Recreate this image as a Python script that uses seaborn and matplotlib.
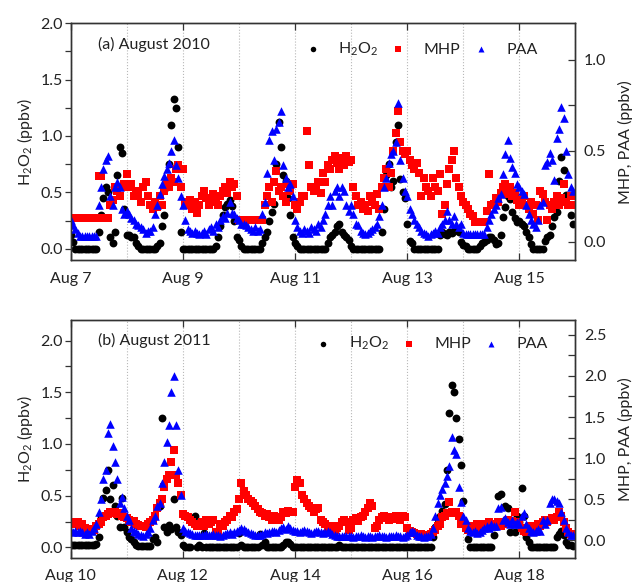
import numpy as np
import pandas as pd
import matplotlib
matplotlib.use("Agg")
import matplotlib.pyplot as plt
import matplotlib.dates as mdates
from matplotlib.ticker import MultipleLocator, FormatStrFormatter
import seaborn as sns

sns.set_style("ticks")
plt.rcParams['font.family'] = ['Lato', 'DejaVu Sans']
plt.rcParams['mathtext.fontset'] = 'custom'
plt.rcParams['mathtext.rm'] = 'Lato'
plt.rcParams['mathtext.it'] = 'Lato:italic'
plt.rcParams['font.size'] = 11.5

# ---------------- (a) August 2010, hourly, Aug 7 00:00 -> Aug 15 23:00 ----------------
a_start = "2010-08-07"
a_h2o2 = [
    0.12,0.06,0.0,0.0,0.0,0.0,0.0,0.0,0.0,0.0,0.0,0.0,0.15,0.3,0.45,0.55,0.5,0.1,0.05,0.15,0.65,0.9,0.85,0.35,
    0.12,0.12,0.1,0.1,0.05,0.02,0.0,0.0,0.0,0.0,0.0,0.0,0.0,0.02,0.05,0.2,0.3,0.55,0.75,1.1,1.33,1.25,0.9,0.15,
    0.0,0.0,0.0,0.0,0.0,0.0,0.0,0.0,0.0,0.0,0.0,0.0,0.0,0.0,0.02,0.1,0.2,0.3,0.37,0.4,0.43,0.38,0.25,0.1,
    0.08,0.02,0.0,0.0,0.0,0.0,0.0,0.0,0.0,0.0,0.05,0.1,0.15,0.25,0.33,0.4,0.75,1.12,0.9,0.65,0.6,0.45,0.3,0.1,
    0.05,0.02,0.0,0.0,0.0,0.0,0.0,0.0,0.0,0.0,0.0,0.0,0.0,0.0,0.05,0.1,0.12,0.15,0.2,0.22,0.15,0.12,0.1,0.08,
    0.02,0.0,0.0,0.0,0.0,0.0,0.0,0.0,0.0,0.0,0.0,0.0,0.0,0.15,0.35,0.65,0.75,0.55,0.6,0.95,1.1,0.62,0.5,0.45,
    0.22,0.07,0.05,0.0,0.0,0.0,0.0,0.0,0.0,0.0,0.0,0.0,0.0,0.0,0.12,0.15,0.13,0.12,0.15,0.14,0.16,0.18,0.15,0.06,
    0.03,0.02,0.0,0.0,0.0,0.0,0.0,0.02,0.05,0.06,0.08,0.1,0.1,0.08,0.04,0.05,0.12,0.28,0.37,0.47,0.44,0.33,0.27,0.24,
    0.25,0.22,0.2,0.15,0.1,0.04,0.0,0.0,0.0,0.0,0.0,0.07,0.1,0.12,0.2,0.28,0.33,0.6,0.81,0.7,0.48,0.4,0.3,0.22,
]
a_mhp = [
    0.13,0.13,0.13,0.13,0.13,0.13,0.13,0.13,0.13,0.13,0.13,0.13,0.36,0.36,0.13,0.13,0.13,0.2,0.23,0.3,0.28,0.25,0.3,0.32,
    0.37,0.3,0.32,0.25,0.28,0.26,0.22,0.3,0.33,0.25,0.2,0.18,0.22,0.19,0.25,0.2,0.28,0.32,0.3,0.35,0.33,0.4,0.42,0.3,
    0.4,0.22,0.2,0.23,0.18,0.22,0.16,0.2,0.25,0.28,0.24,0.2,0.22,0.26,0.24,0.2,0.25,0.28,0.3,0.27,0.33,0.3,0.32,0.25,
    0.12,0.12,0.12,0.12,0.12,0.12,0.12,0.12,0.12,0.12,0.12,0.2,0.25,0.3,0.22,0.33,0.39,0.28,0.3,0.25,0.22,0.32,0.28,0.32,
    0.2,0.18,0.22,0.25,0.25,0.61,0.42,0.3,0.28,0.3,0.33,0.27,0.38,0.33,0.42,0.4,0.45,0.47,0.43,0.4,0.46,0.42,0.47,0.44,
    0.45,0.3,0.25,0.2,0.22,0.18,0.2,0.17,0.25,0.22,0.2,0.26,0.18,0.3,0.35,0.4,0.3,0.38,0.5,0.6,0.72,0.55,0.5,0.48,
    0.5,0.45,0.42,0.4,0.43,0.38,0.25,0.35,0.3,0.28,0.25,0.35,0.3,0.28,0.37,0.15,0.2,0.32,0.4,0.45,0.5,0.35,0.3,0.25,
    0.22,0.2,0.18,0.15,0.14,0.11,0.11,0.11,0.11,0.11,0.17,0.37,0.2,0.21,0.24,0.22,0.27,0.3,0.32,0.26,0.3,0.25,0.27,0.23,
    0.2,0.22,0.25,0.2,0.18,0.22,0.15,0.2,0.12,0.28,0.26,0.22,0.12,0.2,0.18,0.22,0.25,0.2,0.24,0.32,0.22,0.2,0.25,0.2,
]
a_paa = [
    0.12,0.09,0.07,0.05,0.03,0.03,0.03,0.03,0.03,0.03,0.03,0.03,0.2,0.3,0.4,0.45,0.47,0.25,0.2,0.3,0.33,0.3,0.18,0.15,
    0.17,0.15,0.13,0.12,0.1,0.09,0.08,0.07,0.05,0.06,0.06,0.08,0.15,0.2,0.26,0.32,0.36,0.4,0.43,0.5,0.56,0.42,0.35,0.25,
    0.2,0.12,0.07,0.06,0.05,0.06,0.05,0.04,0.05,0.06,0.04,0.07,0.08,0.06,0.1,0.08,0.12,0.14,0.13,0.16,0.22,0.16,0.15,0.13,
    0.12,0.1,0.1,0.09,0.08,0.07,0.06,0.08,0.06,0.07,0.15,0.22,0.38,0.56,0.61,0.45,0.62,0.66,0.72,0.42,0.35,0.3,0.32,0.25,
    0.12,0.08,0.06,0.05,0.07,0.06,0.05,0.08,0.07,0.06,0.1,0.08,0.12,0.15,0.2,0.25,0.2,0.28,0.3,0.25,0.3,0.28,0.2,0.17,
    0.2,0.15,0.1,0.09,0.06,0.05,0.04,0.05,0.06,0.07,0.08,0.1,0.14,0.2,0.3,0.35,0.43,0.48,0.5,0.55,0.76,0.45,0.35,0.28,
    0.25,0.18,0.15,0.12,0.1,0.08,0.06,0.05,0.04,0.03,0.04,0.05,0.06,0.05,0.08,0.1,0.12,0.17,0.12,0.1,0.14,0.1,0.08,0.1,
    0.05,0.04,0.04,0.04,0.04,0.04,0.04,0.04,0.04,0.04,0.08,0.12,0.15,0.18,0.2,0.24,0.26,0.37,0.48,0.56,0.46,0.41,0.38,0.32,
    0.3,0.28,0.26,0.2,0.15,0.12,0.1,0.08,0.12,0.2,0.22,0.42,0.44,0.49,0.45,0.34,0.57,0.62,0.74,0.68,0.5,0.37,0.3,0.28,
]

# ---------------- (b) August 2011, hourly, Aug 10 00:00 -> Aug 18 23:00 ----------------
b_start = "2011-08-10"
b_h2o2 = [
    0.02,0.02,0.02,0.02,0.02,0.02,0.02,0.02,0.02,0.02,0.02,0.03,0.1,0.3,0.48,0.55,0.75,0.47,0.6,0.4,0.3,0.2,0.48,0.2,
    0.15,0.1,0.08,0.05,0.02,0.01,0.01,0.01,0.01,0.01,0.01,0.08,0.1,0.05,0.4,1.25,0.2,0.15,0.22,0.18,0.47,0.2,0.15,0.12,
    0.02,0.0,0.0,0.0,0.25,0.3,0.0,0.02,0.0,0.14,0.0,0.0,0.0,0.0,0.0,0.0,0.0,0.0,0.0,0.0,0.0,0.0,0.0,0.0,
    0.14,0.02,0.0,0.0,0.0,0.0,0.0,0.0,0.0,0.13,0.02,0.05,0.0,0.0,0.0,0.0,0.0,0.0,0.0,0.02,0.05,0.05,0.03,0.0,
    0.0,0.0,0.0,0.0,0.0,0.0,0.0,0.0,0.0,0.0,0.0,0.0,0.0,0.0,0.0,0.0,0.0,0.0,0.0,0.02,0.0,0.0,0.0,0.0,
    0.0,0.0,0.0,0.0,0.0,0.0,0.0,0.0,0.0,0.0,0.0,0.0,0.0,0.0,0.0,0.0,0.0,0.0,0.0,0.0,0.0,0.0,0.0,0.0,
    0.0,0.0,0.0,0.0,0.0,0.0,0.0,0.0,0.0,0.0,0.0,0.1,0.2,0.27,0.3,0.35,0.42,0.75,1.3,1.57,1.5,1.25,1.05,0.8,
    0.45,0.2,0.08,0.0,0.0,0.0,0.0,0.0,0.0,0.0,0.0,0.0,0.0,0.12,0.22,0.5,0.52,0.25,0.4,0.38,0.15,0.23,0.15,0.3,
    0.25,0.57,0.3,0.1,0.05,0.0,0.0,0.0,0.0,0.0,0.0,0.0,0.0,0.0,0.0,0.0,0.1,0.13,0.16,0.12,0.05,0.02,0.02,0.01,
]
b_mhp = [
    0.22,0.2,0.2,0.22,0.18,0.2,0.15,0.13,0.12,0.14,0.13,0.18,0.2,0.22,0.28,0.3,0.32,0.34,0.33,0.35,0.32,0.33,0.3,0.28,
    0.27,0.25,0.22,0.23,0.2,0.19,0.18,0.17,0.16,0.2,0.22,0.25,0.3,0.4,0.45,0.5,0.65,0.75,0.8,0.95,1.1,0.8,0.7,0.55,
    0.32,0.3,0.28,0.25,0.22,0.2,0.18,0.2,0.22,0.18,0.25,0.2,0.22,0.25,0.1,0.08,0.2,0.18,0.22,0.25,0.3,0.28,0.35,0.38,
    0.5,0.7,0.6,0.55,0.5,0.48,0.45,0.42,0.38,0.35,0.33,0.3,0.32,0.28,0.25,0.3,0.27,0.25,0.28,0.35,0.33,0.36,0.34,0.35,
    0.65,0.73,0.7,0.55,0.5,0.45,0.42,0.4,0.35,0.38,0.4,0.25,0.22,0.2,0.15,0.18,0.17,0.13,0.15,0.18,0.22,0.25,0.22,0.13,
    0.15,0.25,0.27,0.23,0.28,0.3,0.35,0.4,0.45,0.42,0.15,0.17,0.25,0.28,0.3,0.27,0.25,0.28,0.26,0.3,0.28,0.25,0.3,0.28,
    0.15,0.12,0.1,0.09,0.08,0.07,0.08,0.07,0.06,0.07,0.08,0.1,0.13,0.17,0.2,0.28,0.3,0.33,0.47,0.35,0.33,0.35,0.3,0.2,
    0.2,0.15,0.13,0.15,0.18,0.17,0.2,0.15,0.17,0.2,0.15,0.22,0.2,0.18,0.2,0.22,0.18,0.2,0.22,0.25,0.22,0.24,0.35,0.22,
    0.2,0.15,0.12,0.1,0.15,0.18,0.12,0.15,0.2,0.18,0.22,0.25,0.22,0.25,0.27,0.25,0.28,0.35,0.3,0.22,0.15,0.1,0.08,0.06,
]
b_paa = [
    0.12,0.1,0.12,0.1,0.12,0.1,0.08,0.1,0.08,0.12,0.15,0.2,0.35,0.5,0.75,0.85,1.3,1.42,1.15,0.95,0.75,0.45,0.53,0.4,
    0.3,0.25,0.15,0.12,0.1,0.08,0.06,0.05,0.08,0.1,0.15,0.25,0.3,0.42,0.45,0.7,0.95,1.2,1.4,1.8,2.0,1.4,0.85,0.55,
    0.15,0.12,0.1,0.09,0.08,0.07,0.06,0.07,0.06,0.07,0.08,0.06,0.07,0.08,0.06,0.07,0.05,0.07,0.08,0.09,0.1,0.08,0.1,0.12,
    0.13,0.15,0.14,0.12,0.1,0.09,0.08,0.07,0.06,0.07,0.08,0.1,0.09,0.1,0.11,0.12,0.1,0.13,0.15,0.16,0.14,0.17,0.15,0.13,
    0.12,0.11,0.1,0.12,0.13,0.12,0.1,0.09,0.1,0.11,0.12,0.1,0.09,0.1,0.11,0.1,0.08,0.07,0.05,0.05,0.05,0.05,0.05,0.05,
    0.05,0.04,0.05,0.05,0.06,0.05,0.04,0.05,0.05,0.04,0.05,0.05,0.06,0.05,0.05,0.04,0.05,0.05,0.05,0.06,0.05,0.05,0.04,0.05,
    0.06,0.1,0.12,0.1,0.06,0.05,0.05,0.04,0.05,0.05,0.08,0.15,0.3,0.45,0.55,0.62,0.7,0.78,0.9,1.26,1.1,1.05,0.65,0.47,
    0.3,0.25,0.15,0.12,0.1,0.12,0.09,0.1,0.13,0.15,0.18,0.15,0.2,0.18,0.17,0.4,0.41,0.25,0.27,0.22,0.2,0.25,0.2,0.22,
    0.2,0.3,0.33,0.2,0.15,0.12,0.1,0.12,0.14,0.12,0.25,0.2,0.25,0.45,0.5,0.5,0.48,0.45,0.35,0.25,0.15,0.1,0.07,0.06,
]

labels = ["H$_2$O$_2$", "MHP", "PAA"]
TXT = "#222222"


def panel(ax, start, end, h2o2, mhp, paa, ylim_l, ylim_r, major_days, tag,
          leg_anchor):
    t = pd.date_range(start, periods=len(h2o2), freq="h")
    df = pd.DataFrame({"time": t, "H2O2": h2o2, "MHP": mhp, "PAA": paa})
    sns.scatterplot(data=df, x="time", y="H2O2", ax=ax, color="black",
                    marker="o", s=32, linewidth=0, label=labels[0], legend=False)
    ax2 = ax.twinx()
    sns.scatterplot(data=df, x="time", y="MHP", ax=ax2, color="#ff0000",
                    marker="s", s=27, linewidth=0, label=labels[1], legend=False)
    sns.scatterplot(data=df, x="time", y="PAA", ax=ax2, color="#0000ff",
                    marker="^", s=38, linewidth=0, label=labels[2], legend=False)

    ax.set_xlim(pd.Timestamp(start), pd.Timestamp(end))
    ax.set_ylim(*ylim_l)
    ax2.set_ylim(*ylim_r)

    ax.xaxis.set_major_locator(mdates.DayLocator(bymonthday=major_days))
    ax.xaxis.set_minor_locator(mdates.DayLocator())
    ax.xaxis.set_major_formatter(mdates.DateFormatter("%b %-d"))
    ax.yaxis.set_major_locator(MultipleLocator(0.5))
    ax.yaxis.set_minor_locator(MultipleLocator(0.25))
    ax.yaxis.set_major_formatter(FormatStrFormatter("%.1f"))
    ax2.yaxis.set_major_locator(MultipleLocator(0.5))
    ax2.yaxis.set_minor_locator(MultipleLocator(0.25))
    ax2.yaxis.set_major_formatter(FormatStrFormatter("%.1f"))

    ax.grid(True, axis="x", which="both", linestyle=":", color="#b8b8b8",
            linewidth=0.8)
    ax2.grid(False)

    ax.tick_params(axis="x", which="major", direction="in", top=True,
                   bottom=True, length=5, width=0.9, pad=8.5, colors="#333333",
                   labelcolor=TXT, labelsize=11.5)
    ax.tick_params(axis="x", which="minor", length=0)
    ax.tick_params(axis="y", which="major", direction="out", left=True,
                   right=False, length=4, width=0.9, pad=1.5,
                   colors="#333333", labelcolor=TXT, labelsize=11.5)
    ax.tick_params(axis="y", which="minor", direction="out", left=True,
                   right=False, length=4, width=0.9, colors="#333333")
    ax2.tick_params(axis="y", which="major", direction="in", right=True,
                    length=5, width=0.9, pad=6, colors="#333333",
                    labelcolor=TXT, labelsize=11.5)
    ax2.tick_params(axis="y", which="minor", direction="in", right=True,
                    length=5, width=0.9, colors="#333333")

    for a in (ax, ax2):
        for sp in a.spines.values():
            sp.set_linewidth(1.0)
            sp.set_color("#333333")

    ax.set_xlabel("")
    ax.set_ylabel("H$_2$O$_2$ (ppbv)", color=TXT, fontsize=11.5, labelpad=4)
    ax2.set_ylabel("MHP, PAA (ppbv)", color=TXT, fontsize=11.5, labelpad=8)

    ax.text(0.054, 0.912, tag, transform=ax.transAxes, ha="left",
            va="center", color=TXT, fontsize=11.5)

    h1, l1 = ax.get_legend_handles_labels()
    h2, l2 = ax2.get_legend_handles_labels()
    ax2.legend(h1 + h2, l1 + l2, ncol=3, frameon=False, loc="center right",
               bbox_to_anchor=leg_anchor, handlelength=1.0,
               handletextpad=1.1, columnspacing=0.75, markerscale=0.7,
               fontsize=11.5, labelcolor=TXT, borderaxespad=0, borderpad=0)
    return ax2


fig = plt.figure(figsize=(6.32, 5.82), dpi=100)
ax_a = fig.add_axes([0.1119, 0.5533, 0.7987, 0.4067])
ax_b = fig.add_axes([0.1119, 0.0418, 0.7987, 0.4084])

panel(ax_a, a_start, "2010-08-16", a_h2o2, a_mhp, a_paa, (-0.1, 2.0),
      (-0.1, 1.2), [7, 9, 11, 13, 15], "(a) August 2010", (0.925, 0.89))
panel(ax_b, b_start, "2011-08-19", b_h2o2, b_mhp, b_paa, (-0.1, 2.2),
      (-0.21, 2.68), [10, 12, 14, 16, 18], "(b) August 2011", (0.945, 0.9))

fig.savefig("out.png", dpi=100)
